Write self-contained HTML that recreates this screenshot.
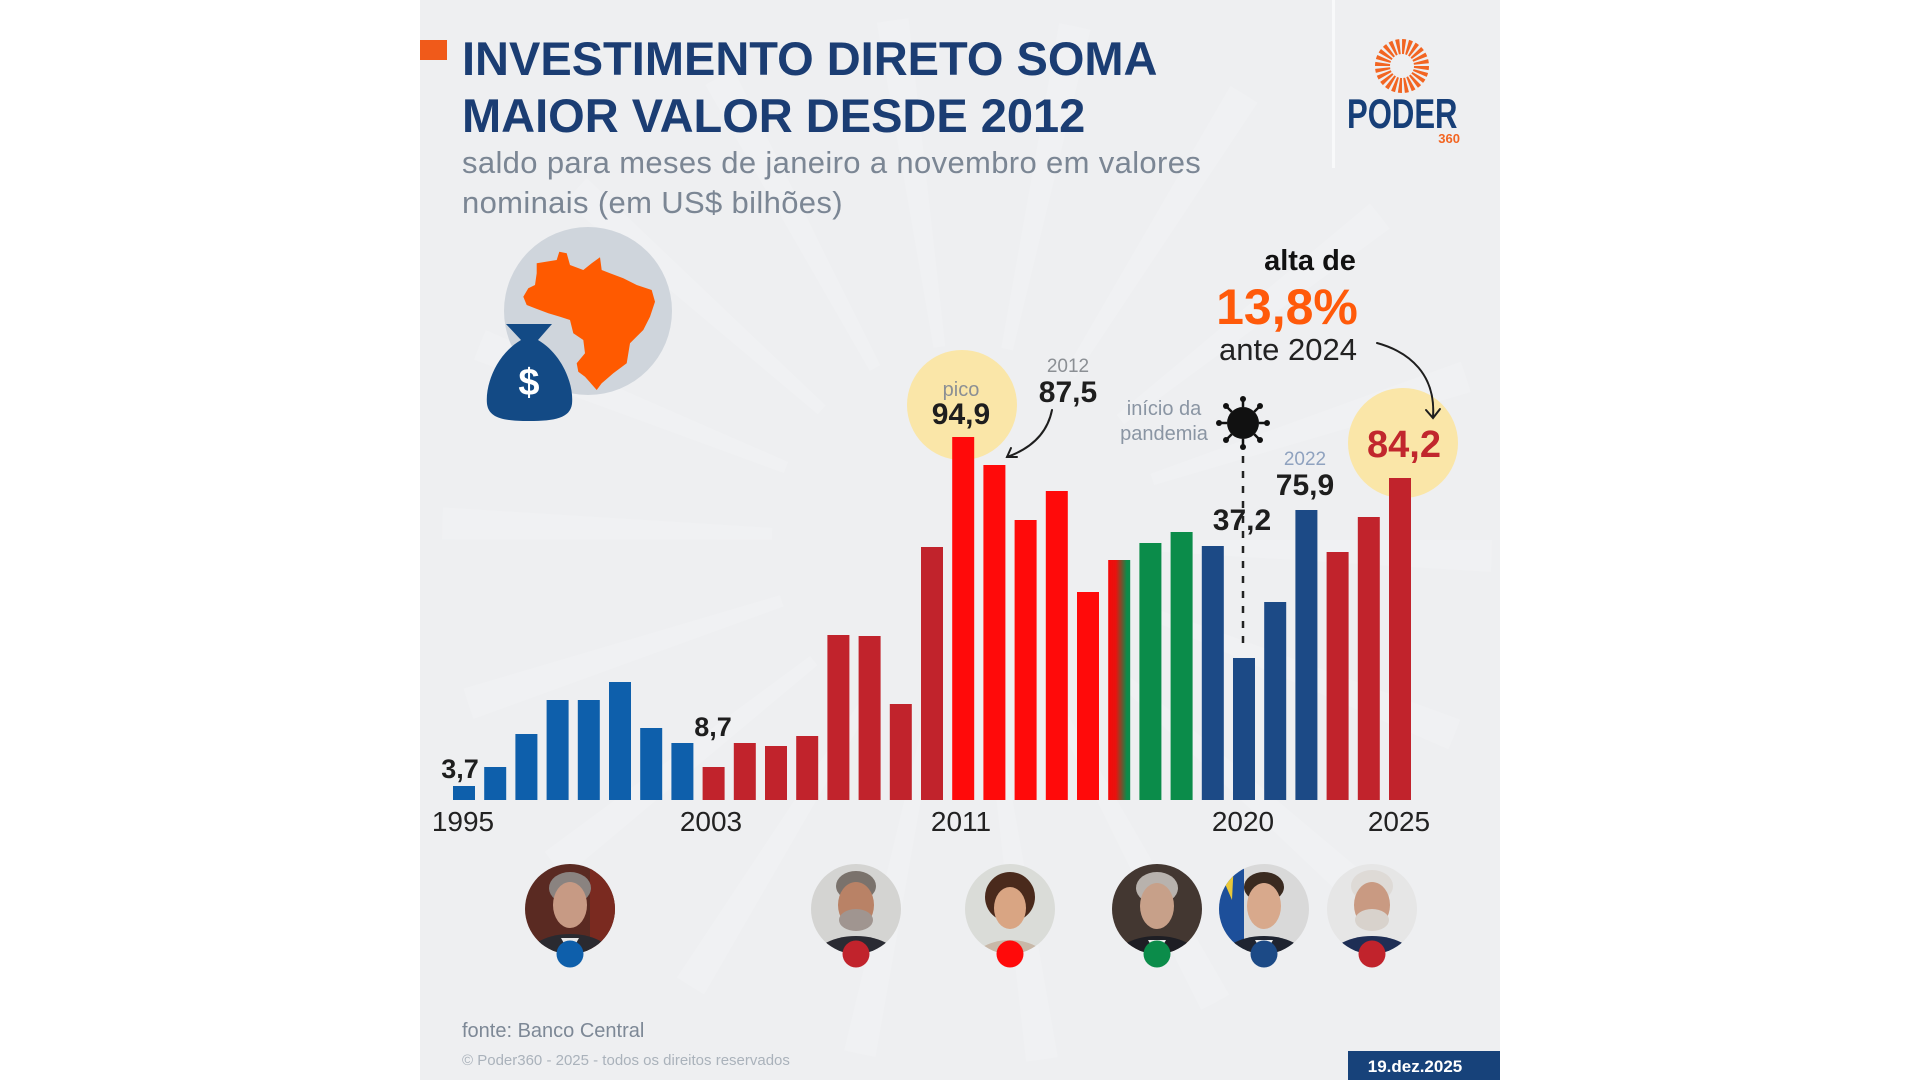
<!DOCTYPE html>
<html>
<head>
<meta charset="utf-8">
<style>
  html, body { margin:0; padding:0; background:#ffffff; }
  svg { display:block; }
  text { font-family: "Liberation Sans", "DejaVu Sans", sans-serif; }
</style>
</head>
<body>
<svg width="1920" height="1080" viewBox="0 0 1920 1080" xmlns="http://www.w3.org/2000/svg">
  <defs>
    <clipPath id="card"><rect x="420" y="0" width="1080" height="1080"/></clipPath>
    <linearGradient id="mix" x1="0" y1="0" x2="1" y2="0">
      <stop offset="0" stop-color="#f40a0a"/>
      <stop offset="0.35" stop-color="#e8120e"/>
      <stop offset="0.85" stop-color="#0b8c4a"/>
      <stop offset="1" stop-color="#0b8c4a"/>
    </linearGradient>
    <clipPath id="c1"><circle cx="570" cy="909" r="45"/></clipPath>
    <clipPath id="c2"><circle cx="856" cy="909" r="45"/></clipPath>
    <clipPath id="c3"><circle cx="1010" cy="909" r="45"/></clipPath>
    <clipPath id="c4"><circle cx="1157" cy="909" r="45"/></clipPath>
    <clipPath id="c5"><circle cx="1264" cy="909" r="45"/></clipPath>
    <clipPath id="c6"><circle cx="1372" cy="909" r="45"/></clipPath>
  </defs>

  <!-- card background -->
  <rect x="420" y="0" width="1080" height="1080" fill="#eeeff1"/>
  <g clip-path="url(#card)">
    <circle cx="967" cy="540" r="360" fill="none" stroke="#ffffff" stroke-opacity="0.14" stroke-width="330" stroke-dasharray="22 103.7"/>
  </g>

  <!-- vertical divider near logo -->
  <rect x="1332" y="0" width="3" height="168" fill="#f8f9fa"/>

  <!-- title -->
  <rect x="420" y="40" width="27" height="20" fill="#f05a1a"/>
  <text x="462" y="75" font-size="47" font-weight="bold" fill="#1b3d73">INVESTIMENTO DIRETO SOMA</text>
  <text x="462" y="132" font-size="47" font-weight="bold" fill="#1b3d73">MAIOR VALOR DESDE 2012</text>
  <text x="462" y="173" font-size="31" fill="#7b8694" letter-spacing="0.35">saldo para meses de janeiro a novembro em valores</text>
  <text x="462" y="213" font-size="31" fill="#7b8694" letter-spacing="0.35">nominais (em US$ bilhões)</text>

  <!-- logo -->
  <circle cx="1402" cy="66" r="19.5" fill="none" stroke="#f26522" stroke-width="15" stroke-dasharray="3 2.1"/>
  <circle cx="1402" cy="66" r="11" fill="#eeeff1"/>
  <text x="0" y="0" font-size="42" font-weight="bold" fill="#173f78" transform="translate(1347 128) scale(0.74 1)">PODER</text>
  <text x="1460" y="143" font-size="13" font-weight="bold" fill="#f26522" text-anchor="end">360</text>

  <!-- globe / brazil / money bag -->
  <circle cx="588" cy="311" r="84" fill="#cfd5dc"/>
  <polygon fill="#ff5a00" points="536.7,263.3 556.7,260 559.3,251.7 566.7,253.3 570,265 583.3,270 591.7,263.3 600,257.3 601.7,270 610,273.3 623.3,278.3 636.7,285 651.7,290 655,301.7 650,316.7 643.3,330 630,343.3 626.7,363.3 613.3,373.3 601.7,383.3 596.7,390 585,376.7 578.3,371.7 576.7,363.3 585,353.3 583.3,340 573.3,333.3 570,320 560,316.7 548.3,313.3 535,308.3 526.7,305 523.3,296.7 528.3,288.3 535,285 536.7,273.3"/>
  <path d="M506 324 L552 324 L538 340 C562 354 574 384 572 404 C570 418 555 421 529 421 C503 421 489 418 487 404 C485 384 497 354 521 340 Z" fill="#134a85"/>
  <text x="529" y="395" font-size="38" font-weight="bold" fill="#ffffff" text-anchor="middle">$</text>

  <!-- highlight circles -->
  <circle cx="962" cy="405" r="55" fill="#fae6a8"/>
  <circle cx="1403" cy="443" r="55" fill="#fae6a8"/>

  <!-- bars -->
  <g>
    <rect x="453" y="786" width="22" height="14" fill="#0e5fab"/>
    <rect x="484.2" y="767" width="22" height="33" fill="#0e5fab"/>
    <rect x="515.4" y="734" width="22" height="66" fill="#0e5fab"/>
    <rect x="546.6" y="700" width="22" height="100" fill="#0e5fab"/>
    <rect x="577.8" y="700" width="22" height="100" fill="#0e5fab"/>
    <rect x="609" y="682" width="22" height="118" fill="#0e5fab"/>
    <rect x="640.2" y="728" width="22" height="72" fill="#0e5fab"/>
    <rect x="671.4" y="743" width="22" height="57" fill="#0e5fab"/>
    <rect x="702.6" y="767" width="22" height="33" fill="#c1232c"/>
    <rect x="733.8" y="743" width="22" height="57" fill="#c1232c"/>
    <rect x="765" y="746" width="22" height="54" fill="#c1232c"/>
    <rect x="796.2" y="736" width="22" height="64" fill="#c1232c"/>
    <rect x="827.4" y="635" width="22" height="165" fill="#c1232c"/>
    <rect x="858.6" y="636" width="22" height="164" fill="#c1232c"/>
    <rect x="889.8" y="704" width="22" height="96" fill="#c1232c"/>
    <rect x="921" y="547" width="22" height="253" fill="#c1232c"/>
    <rect x="952.2" y="437" width="22" height="363" fill="#ff0a0a"/>
    <rect x="983.4" y="465" width="22" height="335" fill="#ff0a0a"/>
    <rect x="1014.6" y="520" width="22" height="280" fill="#ff0a0a"/>
    <rect x="1045.8" y="491" width="22" height="309" fill="#ff0a0a"/>
    <rect x="1077" y="592" width="22" height="208" fill="#ff0a0a"/>
    <rect x="1108.2" y="560" width="22" height="240" fill="url(#mix)"/>
    <rect x="1139.4" y="543" width="22" height="257" fill="#0b8c4a"/>
    <rect x="1170.6" y="532" width="22" height="268" fill="#0b8c4a"/>
    <rect x="1201.8" y="546" width="22" height="254" fill="#1c4a86"/>
    <rect x="1233" y="658" width="22" height="142" fill="#1c4a86"/>
    <rect x="1264.2" y="602" width="22" height="198" fill="#1c4a86"/>
    <rect x="1295.4" y="510" width="22" height="290" fill="#1c4a86"/>
    <rect x="1326.6" y="552" width="22" height="248" fill="#c1232c"/>
    <rect x="1357.8" y="517" width="22" height="283" fill="#c1232c"/>
    <rect x="1389" y="478" width="22" height="322" fill="#c1232c"/>
  </g>

  <!-- year labels -->
  <g font-size="28" fill="#222222" text-anchor="middle">
    <text x="463" y="831">1995</text>
    <text x="711" y="831">2003</text>
    <text x="961" y="831">2011</text>
    <text x="1243" y="831">2020</text>
    <text x="1399" y="831">2025</text>
  </g>

  <!-- value labels -->
  <g font-weight="bold" fill="#1e1e1e" text-anchor="middle">
    <text x="460" y="778" font-size="27">3,7</text>
    <text x="713" y="736" font-size="27">8,7</text>
    <text x="961" y="424" font-size="30">94,9</text>
    <text x="1068" y="402" font-size="30">87,5</text>
    <text x="1242" y="530" font-size="30">37,2</text>
    <text x="1305" y="495" font-size="30">75,9</text>
  </g>
  <text x="961" y="396" font-size="20" fill="#8b8f94" text-anchor="middle">pico</text>
  <text x="1068" y="372" font-size="19" fill="#8b8f94" text-anchor="middle">2012</text>
  <text x="1305" y="465" font-size="19" fill="#8fa2bf" text-anchor="middle">2022</text>
  <text x="1404" y="457" font-size="38" font-weight="bold" fill="#c1272d" text-anchor="middle">84,2</text>

  <!-- pandemic note -->
  <text x="1164" y="415" font-size="20" fill="#8a95a3" text-anchor="middle">início da</text>
  <text x="1164" y="440" font-size="20" fill="#8a95a3" text-anchor="middle">pandemia</text>
  <g fill="#111111" stroke="#111111">
    <circle cx="1243" cy="423" r="16" stroke="none"/>
    <g stroke-width="2.5">
      <line x1="1243" y1="407" x2="1243" y2="399"/>
      <line x1="1243" y1="439" x2="1243" y2="447"/>
      <line x1="1227" y1="423" x2="1219" y2="423"/>
      <line x1="1259" y1="423" x2="1267" y2="423"/>
      <line x1="1231.7" y1="411.7" x2="1226" y2="406"/>
      <line x1="1254.3" y1="411.7" x2="1260" y2="406"/>
      <line x1="1231.7" y1="434.3" x2="1226" y2="440"/>
      <line x1="1254.3" y1="434.3" x2="1260" y2="440"/>
    </g>
    <g stroke="none">
      <circle cx="1243" cy="399" r="3"/><circle cx="1243" cy="447" r="3"/>
      <circle cx="1219" cy="423" r="3"/><circle cx="1267" cy="423" r="3"/>
      <circle cx="1226" cy="406" r="3"/><circle cx="1260" cy="406" r="3"/>
      <circle cx="1226" cy="440" r="3"/><circle cx="1260" cy="440" r="3"/>
    </g>
  </g>
  <line x1="1243" y1="456" x2="1243" y2="648" stroke="#222222" stroke-width="2.5" stroke-dasharray="7 8"/>

  <!-- alta de 13,8% -->
  <text x="1310" y="270" font-size="29" font-weight="bold" fill="#111111" text-anchor="middle">alta de</text>
  <text x="1287" y="324" font-size="50" font-weight="bold" fill="#ff5a0a" text-anchor="middle">13,8%</text>
  <text x="1288" y="360" font-size="31" fill="#222222" text-anchor="middle">ante 2024</text>

  <!-- arrows -->
  <g fill="none" stroke="#1e1e1e" stroke-width="2" stroke-linecap="round">
    <path d="M1377 343 C1410 352 1436 375 1433 417"/>
    <path d="M1426 410 L1433 418 L1440 409"/>
    <path d="M1052 410 C1048 430 1035 447 1007 457"/>
    <path d="M1011 448 L1007 457 L1017 457"/>
  </g>

  <!-- portraits -->
  <g clip-path="url(#c1)">
    <rect x="520" y="860" width="100" height="100" fill="#5a2a22"/>
    <rect x="590" y="860" width="30" height="100" fill="#7a2a20"/>
    <ellipse cx="570" cy="962" rx="46" ry="28" fill="#2a2a30"/>
    <polygon points="561,938 579,938 570,954" fill="#e8e8e8"/>
    <ellipse cx="570" cy="888" rx="21" ry="16" fill="#8a8380"/>
    <ellipse cx="570" cy="905" rx="17" ry="23" fill="#c79a84"/>
  </g>
  <g clip-path="url(#c2)">
    <rect x="806" y="860" width="100" height="100" fill="#d4d4d2"/>
    <ellipse cx="856" cy="964" rx="46" ry="28" fill="#2a2b33"/>
    <polygon points="812,940 836,960 812,965" fill="#3a9a3a"/>
    <polygon points="816,945 832,958 820,960" fill="#e8c83a"/>
    <ellipse cx="856" cy="886" rx="20" ry="15" fill="#7a726c"/>
    <ellipse cx="856" cy="905" rx="18" ry="23" fill="#b98266"/>
    <ellipse cx="856" cy="920" rx="17" ry="11" fill="#a09590"/>
  </g>
  <g clip-path="url(#c3)">
    <rect x="960" y="860" width="100" height="100" fill="#dadcd8"/>
    <polygon points="962,920 990,960 962,960" fill="#4a9a40"/>
    <ellipse cx="1010" cy="966" rx="40" ry="26" fill="#c8b8a8"/>
    <ellipse cx="1010" cy="897" rx="25" ry="25" fill="#4a2a1c"/>
    <ellipse cx="1010" cy="908" rx="16" ry="21" fill="#d9a583"/>
  </g>
  <g clip-path="url(#c4)">
    <rect x="1107" y="860" width="100" height="100" fill="#433731"/>
    <ellipse cx="1157" cy="964" rx="46" ry="28" fill="#1e1e24"/>
    <polygon points="1148,940 1166,940 1157,956" fill="#eeeeee"/>
    <ellipse cx="1157" cy="888" rx="21" ry="16" fill="#b8b2ad"/>
    <ellipse cx="1157" cy="906" rx="17" ry="23" fill="#c7a089"/>
  </g>
  <g clip-path="url(#c5)">
    <rect x="1214" y="860" width="100" height="100" fill="#d9d9d9"/>
    <rect x="1214" y="860" width="30" height="100" fill="#1d4f9a"/>
    <polygon points="1219,870 1234,860 1232,900" fill="#e8c83a"/>
    <polygon points="1219,930 1236,945 1224,960" fill="#3a9a3a"/>
    <ellipse cx="1264" cy="964" rx="46" ry="28" fill="#1f2430"/>
    <polygon points="1255,940 1273,940 1264,956" fill="#eeeeee"/>
    <ellipse cx="1264" cy="887" rx="20" ry="15" fill="#3a2a20"/>
    <ellipse cx="1264" cy="906" rx="17" ry="23" fill="#d8a98c"/>
  </g>
  <g clip-path="url(#c6)">
    <rect x="1322" y="860" width="100" height="100" fill="#e6e6e6"/>
    <ellipse cx="1372" cy="964" rx="46" ry="28" fill="#1e2e55"/>
    <polygon points="1328,940 1350,960 1328,965" fill="#3a9a3a"/>
    <polygon points="1331,946 1346,958 1334,961" fill="#e8c83a"/>
    <ellipse cx="1372" cy="886" rx="21" ry="16" fill="#dedad6"/>
    <ellipse cx="1372" cy="905" rx="18" ry="23" fill="#c99a82"/>
    <ellipse cx="1372" cy="920" rx="17" ry="11" fill="#d8d2cc"/>
  </g>
  <!-- party dots -->
  <circle cx="570" cy="954" r="13.5" fill="#0e5fab"/>
  <circle cx="856" cy="954" r="13.5" fill="#c1232c"/>
  <circle cx="1010" cy="954" r="13.5" fill="#ff0a0a"/>
  <circle cx="1157" cy="954" r="13.5" fill="#0b8c4a"/>
  <circle cx="1264" cy="954" r="13.5" fill="#1c4a86"/>
  <circle cx="1372" cy="954" r="13.5" fill="#c1232c"/>

  <!-- footer -->
  <text x="462" y="1037" font-size="20" fill="#7d8896">fonte: Banco Central</text>
  <text x="462" y="1065" font-size="15" fill="#aab2bb">© Poder360 - 2025 - todos os direitos reservados</text>
  <rect x="1348" y="1051" width="152" height="29" fill="#17427a"/>
  <text x="1415" y="1072" font-size="17" font-weight="bold" fill="#ffffff" text-anchor="middle">19.dez.2025</text>
</svg>
</body>
</html>
